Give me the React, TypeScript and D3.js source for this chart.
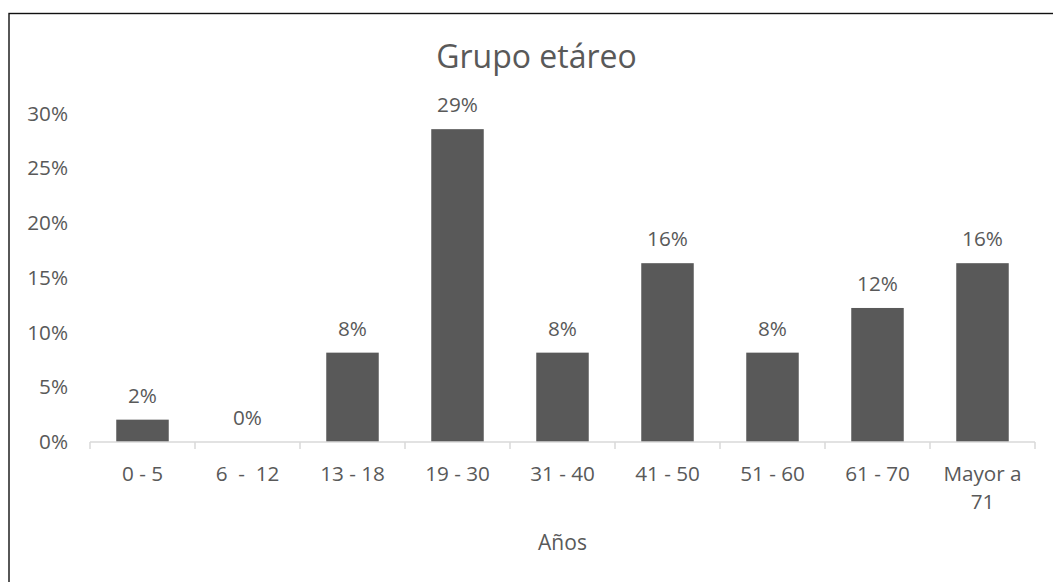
import React from "react";
import * as d3 from "d3";

const categories: string[] = ["0 - 5", "6  -  12", "13 - 18", "19 - 30", "31 - 40", "41 - 50", "51 - 60", "61 - 70", "Mayor a 71"];
const values: number[] = [0.0204, 0, 0.0816, 0.2857, 0.0816, 0.1633, 0.0816, 0.1224, 0.1633];
const yTicks: number[] = [0, 0.05, 0.1, 0.15, 0.2, 0.25, 0.3];
const title = "Grupo etáreo";
const xTitle = "Años";

const W = 1053;
const H = 582;
const TEXT = "#595959";
const FONT = "'Open Sans', 'Noto Sans', sans-serif";

function wrap(label: string): string[] {
  if (label.length <= 8) return [label];
  const i = label.lastIndexOf(" ");
  return [label.slice(0, i), label.slice(i + 1)];
}

export default function App() {
  const x = d3.scaleBand<string>().domain(categories).range([90, 1035]).paddingInner(0.5).paddingOuter(0.25);
  const y = d3.scaleLinear().domain([0, 0.3]).range([442, 113.5]);
  const step = x.step();
  const bw = x.bandwidth();
  const fmt = d3.format(".0%");
  const boundaries = categories.map((c) => (x(c) as number) - (step - bw) / 2);
  boundaries.push((x(categories[categories.length - 1]) as number) + bw + (step - bw) / 2);

  return (
    <svg width={W} height={H} style={{ position: "absolute", left: 0, top: 0, background: "#fff" }} fontFamily={FONT}>
      <rect x={9} y={13.5} width={1060} height={600} fill="#fff" stroke="#111" strokeWidth={1.4} />
      <text x={536.5} y={68} textAnchor="middle" fontSize={32} fill={TEXT}>{title}</text>
      {yTicks.map((t) => (
        <text key={t} x={68} y={y(t) + 7} textAnchor="end" fontSize={20.7} fill={TEXT}>{fmt(t)}</text>
      ))}
      {categories.map((c, i) => (
        <rect key={c} x={x(c)} y={y(values[i])} width={bw} height={y(0) - y(values[i])} fill="#595959" />
      ))}
      <line x1={90} x2={1035} y1={442} y2={442} stroke="#d9d9d9" strokeWidth={1.5} />
      {boundaries.map((b, i) => (
        <line key={i} x1={b} x2={b} y1={442} y2={449} stroke="#d9d9d9" strokeWidth={1.5} />
      ))}
      {categories.map((c, i) => (
        <text key={c} x={(x(c) as number) + bw / 2} y={y(values[i]) - 17} textAnchor="middle" fontSize={20.7} fill={TEXT}>{fmt(values[i])}</text>
      ))}
      {categories.map((c) => (
        <text key={c} x={(x(c) as number) + bw / 2} y={481} textAnchor="middle" fontSize={20.7} fill={TEXT} style={{ whiteSpace: "pre" }}>
          {wrap(c).map((line, j) => (
            <tspan key={j} x={(x(c) as number) + bw / 2} dy={j === 0 ? 0 : 28}>{line}</tspan>
          ))}
        </text>
      ))}
      <text x={562.5} y={550} textAnchor="middle" fontSize={21} fill={TEXT}>{xTitle}</text>
    </svg>
  );
}
